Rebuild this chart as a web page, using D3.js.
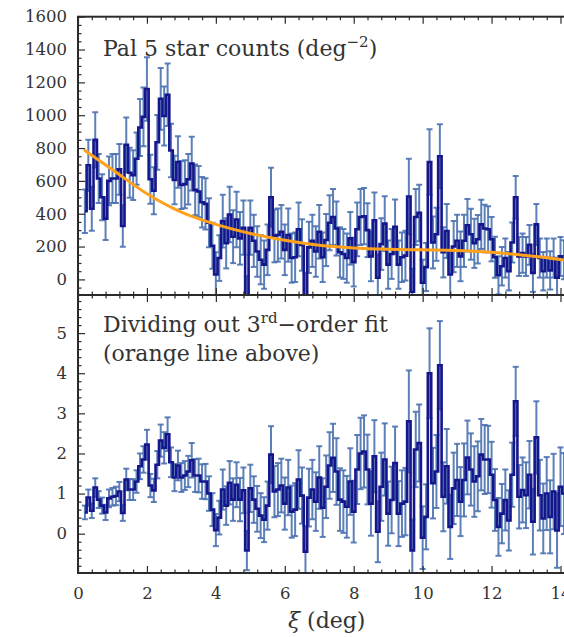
<!DOCTYPE html>
<html>
<head>
<meta charset="utf-8">
<script src="https://cdn.jsdelivr.net/npm/d3@7"></script>
<style>
  html, body { margin: 0; padding: 0; background: #fff; }
  svg { display: block; }
</style>
</head>
<body>
<script>
// Bin centres along the stream (deg)
const xi = [
  0.2, 0.3, 0.4, 0.5, 0.6, 0.7, 0.8, 0.9, 1.0, 1.1,
  1.2, 1.3, 1.4, 1.5, 1.6, 1.7, 1.8, 1.9, 2.0, 2.1,
  2.2, 2.3, 2.4, 2.5, 2.6, 2.7, 2.8, 2.9, 3.0, 3.1,
  3.2, 3.3, 3.4, 3.5, 3.6, 3.7, 3.8, 3.9, 4.0, 4.1,
  4.2, 4.3, 4.4, 4.5, 4.6, 4.7, 4.8, 4.9, 5.0, 5.1,
  5.2, 5.3, 5.4, 5.5, 5.6, 5.7, 5.8, 5.9, 6.0, 6.1,
  6.2, 6.3, 6.4, 6.5, 6.6, 6.7, 6.8, 6.9, 7.0, 7.1,
  7.2, 7.3, 7.4, 7.5, 7.6, 7.7, 7.8, 7.9, 8.0, 8.1,
  8.2, 8.3, 8.4, 8.5, 8.6, 8.7, 8.8, 8.9, 9.0, 9.1,
  9.2, 9.3, 9.4, 9.5, 9.6, 9.7, 9.8, 9.9, 10.0, 10.1,
  10.2, 10.3, 10.4, 10.5, 10.6, 10.7, 10.8, 10.9, 11.0, 11.1,
  11.2, 11.3, 11.4, 11.5, 11.6, 11.7, 11.8, 11.9, 12.0, 12.1,
  12.2, 12.3, 12.4, 12.5, 12.6, 12.7, 12.8, 12.9, 13.0, 13.1,
  13.2, 13.3, 13.4, 13.5, 13.6, 13.7, 13.8, 13.9, 14.0, 14.1,
  14.2, 14.3
];

// Background-subtracted star counts (deg^-2)
const counts = [
  415, 695, 430, 850, 615, 500, 370, 600, 615, 615,
  670, 325, 820, 650, 635, 735, 925, 990, 1160, 610,
  540, 835, 1100, 995, 1125, 785, 605, 715, 575, 580,
  610, 705, 545, 535, 470, 460, 345, 205, 30, 130,
  355, 220, 395, 260, 365, 250, 315, -120, 315, 235,
  170, 120, 90, 180, 500, 265, 270, 290, 180, 270,
  130, 135, 305, 210, -100, 195, 235, 170, 290, 135,
  240, 345, 380, 310, 165, 155, 130, 250, 105, 305,
  380, 385, 300, 140, 360, 10, 215, 340, 90, 155,
  320, 90, 135, 145, 505, -75, 380, 405, -20, 75,
  715, 225, 275, 750, 165, 295, 30, 200, 235, 140,
  235, 330, 275, 220, 245, 335, 310, 305, 245, 135,
  25, 80, 130, 50, 225, 500, 140, 160, 140, 210,
  40, 335, 130, 50, 130, 55, 130, 10, 140, 120,
  105, 125
];

// One-sigma uncertainty on the counts
const countErr = [
  133, 156, 134, 168, 149, 140, 130, 148, 149, 149,
  154, 126, 166, 152, 151, 159, 174, 179, 193, 149,
  143, 167, 188, 180, 190, 163, 148, 157, 146, 146,
  154, 164, 155, 156, 154, 156, 149, 140, 135, 139,
  160, 153, 169, 161, 169, 160, 165, 140, 165, 159,
  154, 150, 147, 154, 180, 161, 162, 163, 154, 162,
  150, 151, 164, 157, 140, 156, 159, 154, 163, 151,
  159, 168, 170, 165, 153, 152, 150, 160, 148, 164,
  170, 171, 164, 151, 169, 141, 157, 167, 147, 152,
  166, 147, 151, 152, 230, 140, 170, 172, 140, 146,
  200, 158, 162, 195, 153, 164, 142, 156, 159, 151,
  159, 160, 155, 150, 148, 150, 145, 140, 135, 125,
  116, 117, 119, 117, 122, 130, 119, 120, 119, 121,
  116, 125, 119, 117, 119, 117, 119, 115, 119, 119,
  118, 119
];

// Counts divided by the 3rd-order polynomial fit
const ratio = [
  0.53, 0.90, 0.57, 1.15, 0.85, 0.70, 0.53, 0.88, 0.92, 0.94,
  1.05, 0.52, 1.35, 1.10, 1.10, 1.30, 1.68, 1.85, 2.22, 1.20,
  1.08, 1.72, 2.32, 2.14, 2.48, 1.78, 1.40, 1.70, 1.40, 1.45,
  1.55, 1.83, 1.45, 1.45, 1.30, 1.30, 1.00, 0.60, 0.09, 0.40,
  1.10, 0.70, 1.27, 0.85, 1.22, 0.85, 1.08, -0.42, 1.13, 0.85,
  0.62, 0.45, 0.35, 0.70, 1.97, 1.05, 1.10, 1.20, 0.75, 1.15,
  0.55, 0.60, 1.35, 0.95, -0.45, 0.90, 1.10, 0.80, 1.40, 0.65,
  1.17, 1.70, 1.89, 1.55, 0.85, 0.80, 0.67, 1.30, 0.55, 1.60,
  2.00, 2.05, 1.60, 0.75, 1.93, 0.05, 1.17, 1.85, 0.50, 0.84,
  1.76, 0.50, 0.75, 0.80, 2.80, -0.42, 2.10, 2.26, -0.10, 0.42,
  4.00, 1.26, 1.55, 4.20, 0.92, 1.68, 0.17, 1.13, 1.34, 0.80,
  1.34, 1.90, 1.60, 1.30, 1.43, 1.97, 1.85, 1.85, 1.47, 0.84,
  0.17, 0.50, 0.84, 0.33, 1.47, 3.30, 0.92, 1.09, 0.96, 1.47,
  0.30, 2.40, 0.96, 0.38, 1.00, 0.42, 1.05, 0.08, 1.17, 1.00,
  0.90, 1.10
];

const ratioErr = [
  0.17, 0.20, 0.18, 0.23, 0.21, 0.20, 0.19, 0.22, 0.22, 0.23,
  0.24, 0.20, 0.27, 0.26, 0.26, 0.28, 0.32, 0.33, 0.37, 0.29,
  0.29, 0.34, 0.40, 0.39, 0.42, 0.37, 0.34, 0.37, 0.36, 0.36,
  0.39, 0.43, 0.41, 0.42, 0.43, 0.44, 0.43, 0.41, 0.40, 0.42,
  0.50, 0.48, 0.54, 0.53, 0.56, 0.54, 0.57, 0.49, 0.59, 0.58,
  0.57, 0.56, 0.56, 0.60, 0.71, 0.64, 0.66, 0.67, 0.65, 0.69,
  0.65, 0.66, 0.73, 0.70, 0.64, 0.72, 0.74, 0.73, 0.78, 0.73,
  0.78, 0.83, 0.85, 0.83, 0.78, 0.78, 0.77, 0.83, 0.77, 0.86,
  0.89, 0.90, 0.87, 0.80, 0.90, 0.76, 0.85, 0.90, 0.80, 0.83,
  0.91, 0.81, 0.83, 0.84, 1.27, 0.77, 0.94, 0.96, 0.78, 0.81,
  1.12, 0.88, 0.91, 1.10, 0.86, 0.93, 0.80, 0.89, 0.90, 0.86,
  0.91, 0.92, 0.90, 0.88, 0.87, 0.89, 0.86, 0.84, 0.82, 0.77,
  0.72, 0.74, 0.76, 0.75, 0.80, 0.86, 0.79, 0.81, 0.82, 0.84,
  0.82, 0.90, 0.88, 0.87, 0.91, 0.91, 0.94, 0.93, 0.98, 1.01,
  1.03, 1.06
];

// Polynomial fit to the counts, sampled along the stream
const fitXi     = [0.2, 1, 2, 3, 4, 5, 6, 7, 8, 9, 10, 11, 12, 13, 14, 14.5];
const fitCounts = [785, 668, 522, 410, 335, 280, 238, 208, 192, 184, 180, 176, 165, 146, 121, 105];

const xTicks      = [0, 2, 4, 6, 8, 10, 12, 14];
const countTicks  = [0, 200, 400, 600, 800, 1000, 1200, 1400, 1600];
const ratioTicks  = [0, 1, 2, 3, 4, 5];

// ---- layout ----
const W = 564, H = 637;
const left = 78, right = 576;
const topY = 16.7, midY = 295, botY = 573;

const FONT = "'DejaVu Serif', serif";
const INK = "#333";
const FRAME = "#2b2b2b";
const ERR_COLOR = "#4c72b0";
const STEP_COLOR = "#16168c";
const FIT_COLOR = "#ffa11a";

const svg = d3.select("body").append("svg")
  .attr("width", W).attr("height", H)
  .attr("viewBox", `0 0 ${W} ${H}`);

const x = d3.scaleLinear().domain([0, 14.45]).range([left, right]);
const yCounts = d3.scaleLinear().domain([-95, 1600]).range([midY, topY]);
const yRatio  = d3.scaleLinear().domain([-0.98, 5.95]).range([botY, midY]);

const defs = svg.append("defs");
function clip(id, y0, y1) {
  defs.append("clipPath").attr("id", id)
    .append("rect").attr("x", left).attr("y", y0)
    .attr("width", right - left).attr("height", y1 - y0);
}
clip("clipTop", topY, midY);
clip("clipBot", midY, botY);

function drawSeries(y, vals, errs, clipId) {
  const g = svg.append("g").attr("clip-path", `url(#${clipId})`);
  const rows = xi.map((d, i) => ({ x: d, v: vals[i], e: errs[i] }));
  const cap = 3;

  const eb = g.append("g")
    .attr("stroke", ERR_COLOR).attr("stroke-width", 2)
    .attr("stroke-opacity", 0.9).attr("fill", "none");
  eb.selectAll("line.bar").data(rows).join("line").attr("class", "bar")
    .attr("x1", d => x(d.x)).attr("x2", d => x(d.x))
    .attr("y1", d => y(d.v - d.e)).attr("y2", d => y(d.v + d.e));
  eb.selectAll("line.capHi").data(rows).join("line").attr("class", "capHi")
    .attr("x1", d => x(d.x) - cap).attr("x2", d => x(d.x) + cap)
    .attr("y1", d => y(d.v + d.e)).attr("y2", d => y(d.v + d.e));
  eb.selectAll("line.capLo").data(rows).join("line").attr("class", "capLo")
    .attr("x1", d => x(d.x) - cap).attr("x2", d => x(d.x) + cap)
    .attr("y1", d => y(d.v - d.e)).attr("y2", d => y(d.v - d.e));

  const step = d3.line().x(d => x(d.x)).y(d => y(d.v)).curve(d3.curveStep);
  g.append("path").datum(rows)
    .attr("d", step)
    .attr("fill", "none")
    .attr("stroke", STEP_COLOR)
    .attr("stroke-width", 2.6)
    .attr("stroke-linejoin", "miter");
  return g;
}

// ---- top panel: star counts ----
const gTop = drawSeries(yCounts, counts, countErr, "clipTop");
const fitLine = d3.line().x((d, i) => x(fitXi[i])).y(d => yCounts(d)).curve(d3.curveMonotoneX);
gTop.append("path").datum(fitCounts)
  .attr("d", fitLine)
  .attr("fill", "none")
  .attr("stroke", FIT_COLOR)
  .attr("stroke-width", 3)
  .attr("stroke-linecap", "round");

// ---- bottom panel: ratio to the fit ----
drawSeries(yRatio, ratio, ratioErr, "clipBot");

// ---- frames ----
[[topY, midY], [midY, botY]].forEach(([a, b]) => {
  svg.append("rect").attr("x", left).attr("y", a)
    .attr("width", right - left).attr("height", b - a)
    .attr("fill", "none").attr("stroke", FRAME).attr("stroke-width", 2);
});

// ---- ticks ----
const MAJ = 7, MIN = 3.5;
function styleAxis(g) {
  g.select(".domain").remove();
  g.selectAll(".tick line").attr("stroke", FRAME).attr("stroke-width", 1.2);
  g.selectAll("text").attr("fill", INK).style("font-family", FONT).style("font-size", "16.5px");
}
const xMinor = d3.range(0, 14.45, 0.4).filter(v => Math.abs(v / 2 - Math.round(v / 2)) > 1e-6);
const countMinor = d3.range(-50, 1600, 50).filter(v => v % 200 !== 0);
const ratioMinor = d3.range(-0.8, 5.95, 0.2).filter(v => Math.abs(v - Math.round(v)) > 1e-6);

function xAxes(yPos, dir, labels) {
  const mk = dir === "up" ? d3.axisBottom : d3.axisTop;
  const maj = svg.append("g").attr("transform", `translate(0,${yPos})`)
    .call(mk(x).tickValues(xTicks).tickSize(-MAJ).tickPadding(14.3)
      .tickFormat(labels ? d3.format("d") : ""));
  styleAxis(maj);
  const mn = svg.append("g").attr("transform", `translate(0,${yPos})`)
    .call(mk(x).tickValues(xMinor).tickSize(-MIN).tickFormat(""));
  styleAxis(mn);
}
xAxes(topY, "down", false);
xAxes(midY, "up", false);
xAxes(midY, "down", false);
xAxes(botY, "up", true);

function yAxes(y, majorVals, minorVals) {
  [[left, d3.axisLeft, true], [right, d3.axisRight, false]].forEach(([xp, mk, lab]) => {
    const maj = svg.append("g").attr("transform", `translate(${xp},0)`)
      .call(mk(y).tickValues(majorVals).tickSize(-MAJ).tickPadding(11)
        .tickFormat(lab ? d3.format("d") : ""));
    styleAxis(maj);
    const mn = svg.append("g").attr("transform", `translate(${xp},0)`)
      .call(mk(y).tickValues(minorVals).tickSize(-MIN).tickFormat(""));
    styleAxis(mn);
  });
}
yAxes(yCounts, countTicks, countMinor);
yAxes(yRatio, ratioTicks, ratioMinor);

// ---- annotations ----
const t1 = svg.append("text").attr("x", 103).attr("y", 56)
  .attr("fill", INK).style("font-family", FONT).style("font-size", "22px");
t1.append("tspan").text("Pal 5 star counts (deg");
t1.append("tspan").attr("dy", -9).style("font-size", "15px").text("\u22122");
t1.append("tspan").attr("dy", 9).text(")");

const t2 = svg.append("text").attr("x", 103).attr("y", 332)
  .attr("fill", INK).style("font-family", FONT).style("font-size", "22px");
t2.append("tspan").text("Dividing out 3");
t2.append("tspan").attr("dy", -9).style("font-size", "15px").text("rd");
t2.append("tspan").attr("dy", 9).text("\u2212order fit");

svg.append("text").attr("x", 103).attr("y", 361)
  .attr("fill", INK).style("font-family", FONT).style("font-size", "22px")
  .text("(orange line above)");

const xl = svg.append("text").attr("x", 326.7).attr("y", 628)
  .attr("text-anchor", "middle")
  .attr("fill", INK).style("font-family", FONT).style("font-size", "22px");
xl.append("tspan").style("font-style", "italic").text("\u03be");
xl.append("tspan").text(" (deg)");
</script>
</body>
</html>
